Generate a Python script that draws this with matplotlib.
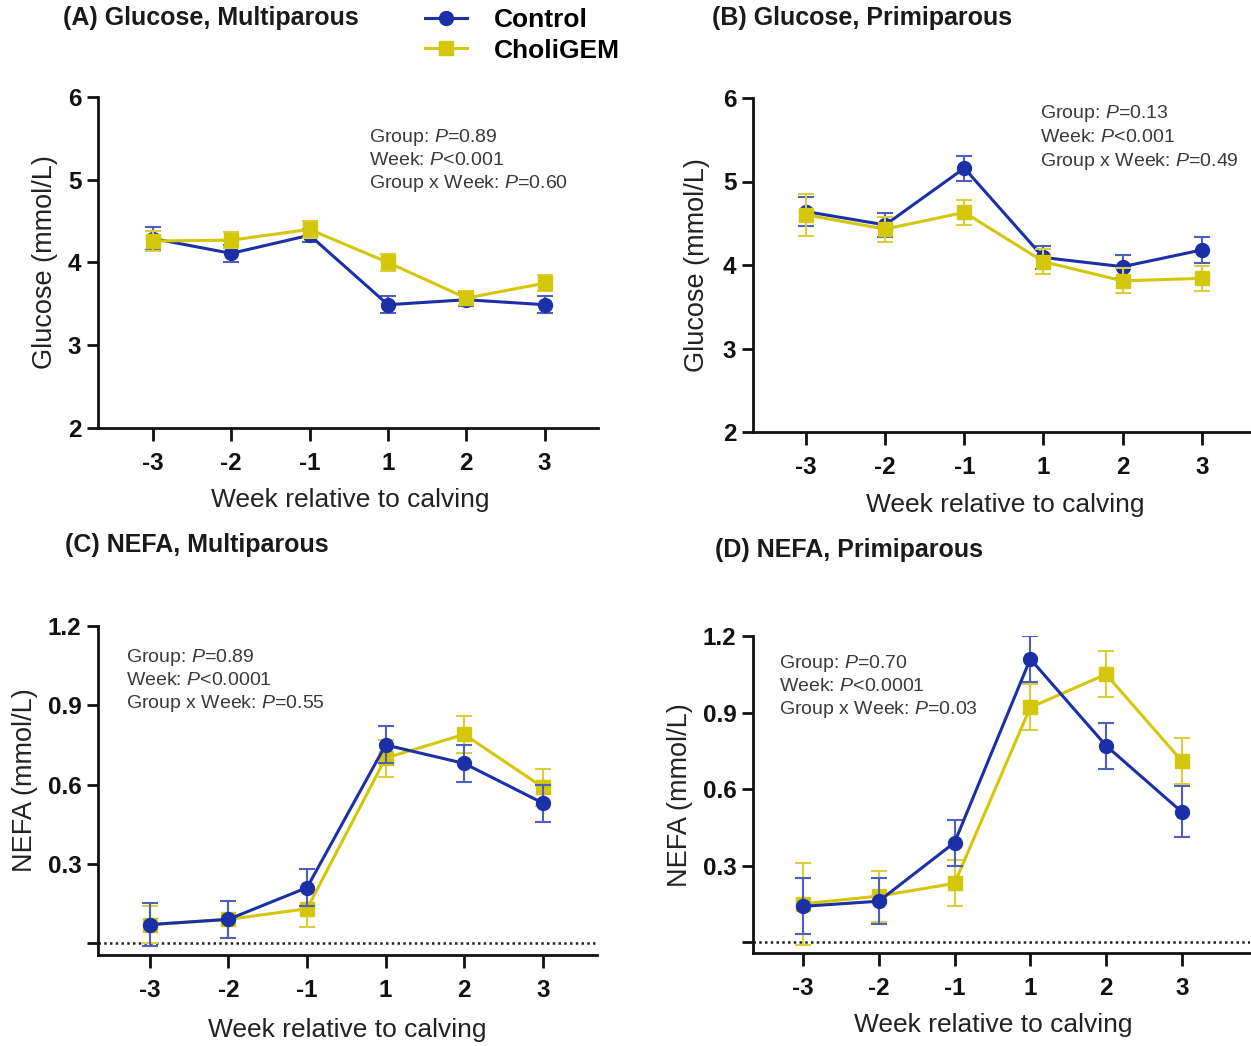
import numpy as np
import matplotlib
matplotlib.use('Agg')
import matplotlib.pyplot as plt

plt.rcParams['font.family'] = ['Liberation Sans', 'DejaVu Sans']
plt.rcParams['mathtext.fontset'] = 'custom'
plt.rcParams['mathtext.rm'] = 'Liberation Sans'
plt.rcParams['mathtext.it'] = 'Liberation Sans:italic'

# ---- data ----
weeks = ['-3', '-2', '-1', '1', '2', '3']
groups = ['Control', 'CholiGEM']

glu_multi_ctrl = [4.29, 4.11, 4.33, 3.49, 3.55, 3.49]
glu_multi_ctrl_se = [0.14, 0.10, 0.08, 0.10, 0.08, 0.10]
glu_multi_chol = [4.26, 4.27, 4.40, 4.00, 3.57, 3.75]
glu_multi_chol_se = [0.12, 0.10, 0.10, 0.10, 0.08, 0.10]

glu_primi_ctrl = [4.64, 4.48, 5.16, 4.09, 3.98, 4.18]
glu_primi_ctrl_se = [0.17, 0.14, 0.15, 0.14, 0.14, 0.16]
glu_primi_chol = [4.60, 4.43, 4.63, 4.04, 3.81, 3.84]
glu_primi_chol_se = [0.25, 0.15, 0.15, 0.15, 0.15, 0.15]

nefa_multi_ctrl = [0.07, 0.09, 0.21, 0.75, 0.68, 0.53]
nefa_multi_ctrl_se = [0.08, 0.07, 0.07, 0.07, 0.07, 0.07]
nefa_multi_chol = [0.07, 0.09, 0.13, 0.70, 0.79, 0.59]
nefa_multi_chol_se = [0.07, 0.07, 0.07, 0.07, 0.07, 0.07]

nefa_primi_ctrl = [0.14, 0.16, 0.39, 1.11, 0.77, 0.51]
nefa_primi_ctrl_se = [0.11, 0.09, 0.09, 0.09, 0.09, 0.10]
nefa_primi_chol = [0.15, 0.18, 0.23, 0.92, 1.05, 0.71]
nefa_primi_chol_se = [0.16, 0.10, 0.09, 0.09, 0.09, 0.09]

p_glu_multi = ['=0.89', '<0.001', '=0.60']
p_glu_primi = ['=0.13', '<0.001', '=0.49']
p_nefa_multi = ['=0.89', '<0.0001', '=0.55']
p_nefa_primi = ['=0.70', '<0.0001', '=0.03']

titles = ['(A) Glucose, Multiparous', '(B) Glucose, Primiparous',
          '(C) NEFA, Multiparous', '(D) NEFA, Primiparous']

# ---- styling ----
W, H = 1251, 1046
blue = '#1b30a6'
blue_err = '#4e5fbf'
yellow = '#d4c608'
yellow_err = '#d9ce3c'
txt_gray = '#3a3a3a'

fig = plt.figure(figsize=(W / 100, H / 100), dpi=100)


def rect(l, t, r, b):
    return [l / W, 1 - b / H, (r - l) / W, (b - t) / H]


panels = [
    dict(box=(98, 97, 598, 428), xl=(-0.70, 5.68), yl=(2, 6), yt=[2, 3, 4, 5, 6],
         ytl=['2', '3', '4', '5', '6'], ylab='Glucose (mmol/L)',
         ctrl=(glu_multi_ctrl, glu_multi_ctrl_se), chol=(glu_multi_chol, glu_multi_chol_se),
         p=p_glu_multi, ptxt=(369, 137), title=(63, 18), ylabpos=(45, 262), xlabpos=(350, 500),
         ctrl_top=False, zero=False),
    dict(box=(753, 98, 1250, 432), xl=(-0.67, 5.61), yl=(2, 6), yt=[2, 3, 4, 5, 6],
         ytl=['2', '3', '4', '5', '6'], ylab='Glucose (mmol/L)',
         ctrl=(glu_primi_ctrl, glu_primi_ctrl_se), chol=(glu_primi_chol, glu_primi_chol_se),
         p=p_glu_primi, ptxt=(1040, 114), title=(712, 18), ylabpos=(697, 265), xlabpos=(1005, 505),
         ctrl_top=False, zero=False),
    dict(box=(98, 626, 597, 955), xl=(-0.66, 5.69), yl=(-0.045, 1.2), yt=[0, 0.3, 0.6, 0.9, 1.2],
         ytl=['', '0.3', '0.6', '0.9', '1.2'], ylab='NEFA (mmol/L)',
         ctrl=(nefa_multi_ctrl, nefa_multi_ctrl_se), chol=(nefa_multi_chol, nefa_multi_chol_se),
         p=p_nefa_multi, ptxt=(126, 657), title=(65, 545), ylabpos=(25, 780), xlabpos=(347, 1030),
         ctrl_top=True, zero=True),
    dict(box=(753, 636, 1250, 953), xl=(-0.66, 5.90), yl=(-0.043, 1.2), yt=[0, 0.3, 0.6, 0.9, 1.2],
         ytl=['', '0.3', '0.6', '0.9', '1.2'], ylab='NEFA (mmol/L)',
         ctrl=(nefa_primi_ctrl, nefa_primi_ctrl_se), chol=(nefa_primi_chol, nefa_primi_chol_se),
         p=p_nefa_primi, ptxt=(779, 663), title=(715, 550), ylabpos=(680, 795), xlabpos=(993, 1025),
         ctrl_top=True, zero=True),
]

x = np.arange(len(weeks))
handles = None
for pan, title in zip(panels, titles):
    ax = fig.add_axes(rect(*pan['box']))
    zc, zy = (4, 3) if pan['ctrl_top'] else (3, 4)

    ax.errorbar(x, pan['ctrl'][0], yerr=pan['ctrl'][1], fmt='none', ecolor=blue_err,
                elinewidth=1.5, capsize=5.5, capthick=1.5, zorder=zc)
    lc, = ax.plot(x, pan['ctrl'][0], '-o', color=blue, lw=2.2, ms=10, zorder=zc, label=groups[0])
    ax.errorbar(x, pan['chol'][0], yerr=pan['chol'][1], fmt='none', ecolor=yellow_err,
                elinewidth=1.5, capsize=5.5, capthick=1.5, zorder=zy)
    ly, = ax.plot(x, pan['chol'][0], '-s', color=yellow, lw=2.2, ms=9.5, zorder=zy, label=groups[1])
    if handles is None:
        handles = [lc, ly]

    if pan['zero']:
        ax.axhline(0, color='#222222', lw=1.8, ls=(0, (1, 1.3)), zorder=1)

    ax.set_xlim(*pan['xl'])
    ax.set_ylim(*pan['yl'])
    ax.set_xticks(x)
    ax.set_xticklabels(weeks)
    ax.set_yticks(pan['yt'])
    ax.set_yticklabels(pan['ytl'])
    for s in ['top', 'right']:
        ax.spines[s].set_visible(False)
    for s in ['left', 'bottom']:
        ax.spines[s].set_linewidth(2.0)
        ax.spines[s].set_color('#111111')
    ax.tick_params(axis='x', direction='out', length=9, width=2.0, pad=8, labelsize=17.5, colors='#111111')
    ax.tick_params(axis='y', direction='out', length=8, width=2.0, pad=4, labelsize=17.5, colors='#111111')
    for lab in ax.get_xticklabels() + ax.get_yticklabels():
        lab.set_fontweight('bold')

    l, t, r, b = pan['box']
    ax.set_ylabel(pan['ylab'], fontsize=19.5, color='#222222', va='center')
    ax.yaxis.set_label_coords((pan['ylabpos'][0] - l) / (r - l), (b - pan['ylabpos'][1]) / (b - t))
    ax.set_xlabel('Week relative to calving', fontsize=19, color='#222222', va='center')
    ax.xaxis.set_label_coords((pan['xlabpos'][0] - l) / (r - l), (b - pan['xlabpos'][1]) / (b - t))

    fig.text(pan['title'][0] / W, 1 - pan['title'][1] / H, title, fontsize=18,
             fontweight='bold', color='#1a1a1a', ha='left', va='center')

    px, py = pan['ptxt']
    labels = ['Group: ', 'Week: ', 'Group x Week: ']
    for i, (lbl, pv) in enumerate(zip(labels, pan['p'])):
        fig.text(px / W, 1 - (py + 23.5 * i) / H, lbl + r'$\mathit{P}$' + pv, fontsize=14,
                 color=txt_gray, ha='left', va='center')

leg = fig.legend(handles=handles, loc='upper left', bbox_to_anchor=(425 / W, 1 - 8 / H),
                 frameon=False, fontsize=19, handlelength=1.6, handletextpad=1.0,
                 labelspacing=0.25, borderaxespad=0, borderpad=0)
for t in leg.get_texts():
    t.set_fontweight('bold')

fig.savefig('out.png', dpi=100)
